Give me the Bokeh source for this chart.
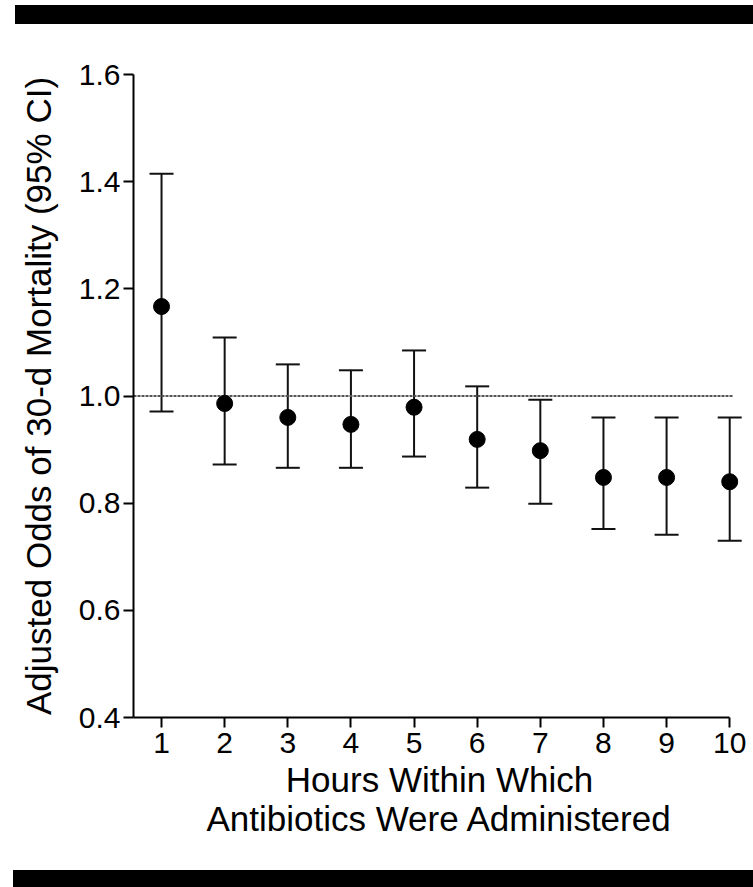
from bokeh.plotting import figure
from bokeh.layouts import column
from bokeh.models import (ColumnDataSource, Whisker, TeeHead, FixedTicker,
                          PrintfTickFormatter, Range1d, Div)
from bokeh.embed import file_html
from bokeh.resources import INLINE

# ---- data ----
hours = [1, 2, 3, 4, 5, 6, 7, 8, 9, 10]
odds = [1.167, 0.986, 0.960, 0.947, 0.979, 0.919, 0.898, 0.848, 0.848, 0.840]
upper_ci = [1.415, 1.109, 1.059, 1.048, 1.085, 1.018, 0.993, 0.960, 0.960, 0.960]
lower_ci = [0.971, 0.872, 0.866, 0.866, 0.887, 0.829, 0.799, 0.752, 0.741, 0.730]
y_ticks = [0.4, 0.6, 0.8, 1.0, 1.2, 1.4, 1.6]
x_ticks = hours
reference_odds = 1.0

FONT = "Liberation Sans"
X_START, X_AXIS_END, X_END = 0.556, 10.0, 10.25

p = figure(width=753, height=846, output_backend="svg", toolbar_location=None,
           x_range=Range1d(X_START, X_END), y_range=Range1d(0.4, 1.6),
           min_border_left=133, min_border_right=8, min_border_top=50,
           min_border_bottom=153, margin=(0, 0, 0, 0))

p.outline_line_color = None
p.grid.visible = False
p.background_fill_color = "white"
p.border_fill_color = "white"

src = ColumnDataSource(dict(x=hours, y=odds, upper=upper_ci, lower=lower_ci))

# dashed reference line at OR = 1.0, spanning the axis
p.line([X_START, max(hours) + 0.05], [reference_odds, reference_odds],
       line_color="#555555", line_width=2, line_dash="3 1")

w = Whisker(source=src, base="x", upper="upper", lower="lower",
            line_color="#111111", line_width=2,
            upper_head=TeeHead(size=24, line_width=2, line_color="#111111"),
            lower_head=TeeHead(size=24, line_width=2, line_color="#111111"))
p.add_layout(w)

p.scatter("x", "y", source=src, size=16, color="black")

for ax in (p.xaxis[0], p.yaxis[0]):
    ax.axis_line_width = 2
    ax.axis_line_color = "black"
    ax.major_tick_line_width = 2
    ax.major_tick_line_color = "black"
    ax.major_tick_out = 10
    ax.major_tick_in = 0
    ax.minor_tick_line_color = None
    ax.major_label_text_font = FONT
    ax.major_label_text_font_size = "30px"
    ax.major_label_text_color = "black"
    ax.axis_label_text_font = FONT
    ax.axis_label_text_font_size = "35px"
    ax.axis_label_text_font_style = "normal"
    ax.axis_label_text_color = "black"

p.xaxis.bounds = (X_START, X_AXIS_END)
p.xaxis.ticker = FixedTicker(ticks=x_ticks)
p.yaxis.ticker = FixedTicker(ticks=y_ticks)
p.yaxis.formatter = PrintfTickFormatter(format="%.1f")
p.xaxis.major_label_standoff = 5
p.yaxis.major_label_standoff = 3
p.xaxis.axis_label = "Hours Within Which\nAntibiotics Were Administered"
p.yaxis.axis_label = "Adjusted Odds of 30-d Mortality (95% CI)"
p.xaxis.axis_label_text_line_height = 1.0
p.xaxis.axis_label_standoff = 4
p.yaxis.axis_label_standoff = 18

# black rules above and below the figure (scan decoration)
top_rule = Div(text="", width=738, height=19, margin=(5, 0, 0, 15),
               styles={"background-color": "black"})
bottom_rule = Div(text="", width=740, height=17, margin=(0, 0, 0, 13),
                  styles={"background-color": "black"})

layout = column(top_rule, p, bottom_rule, spacing=0)

open("out.html", "w").write(file_html(layout, INLINE))
